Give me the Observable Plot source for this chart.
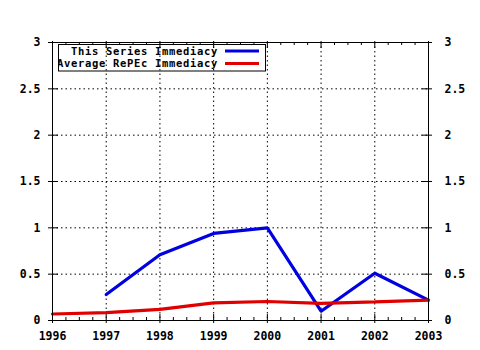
<!DOCTYPE html>
<html>
<head>
<meta charset="utf-8">
<script src="https://cdn.jsdelivr.net/npm/d3@7"></script>
<script src="https://cdn.jsdelivr.net/npm/@observablehq/plot@0.6"></script>
<style>
  html, body { margin: 0; padding: 0; background: #fff; }
  #wrap { position: relative; width: 480px; height: 350px; }
  #legend { position: absolute; left: 58px; top: 44px; }
</style>
</head>
<body>
<div id="wrap"></div>
<script>
// ---- data ----
const years = [1996, 1997, 1998, 1999, 2000, 2001, 2002, 2003];
const xTickLabels = ["1996", "1997", "1998", "1999", "2000", "2001", "2002", "2003"];
const seriesYears = [1997, 1998, 1999, 2000, 2001, 2002, 2003];
const seriesValues = [0.28, 0.71, 0.94, 1.0, 0.10, 0.51, 0.22];
const avgYears = [1996, 1997, 1998, 1999, 2000, 2001, 2002, 2003];
const avgValues = [0.07, 0.085, 0.12, 0.19, 0.205, 0.185, 0.20, 0.22];
const yTicks = [0, 0.5, 1, 1.5, 2, 2.5, 3];
const yTickLabels = ["0", "0.5", "1", "1.5", "2", "2.5", "3"];
const seriesNames = ["This Series Immediacy", "Average RePEc Immediacy"];
const seriesColors = ["#0000e0", "#e00000"];

// ---- layout ----
const W = 480, H = 350, mL = 52, mR = 52, mT = 42, mB = 30;
const xMin = 1996, xMax = 2003, yMin = 0, yMax = 3;
const pxX = (W - mL - mR) / (xMax - xMin);
const pxY = (H - mT - mB) / (yMax - yMin);
const FONT = "'DejaVu Sans Mono', 'Liberation Mono', monospace";

const series = seriesYears.map((y, i) => ({year: y, value: seriesValues[i]}));
const avg = avgYears.map((y, i) => ({year: y, value: avgValues[i]}));
const minorX = d3.range(xMin, xMax, 0.25).filter(v => !years.includes(v));

const dots = {stroke: "#000", strokeWidth: 1, strokeDasharray: "1.5,3"};

const chart = Plot.plot({
  width: W, height: H,
  marginLeft: mL, marginRight: mR, marginTop: mT, marginBottom: mB,
  x: {domain: [xMin, xMax], axis: null},
  y: {domain: [yMin, yMax], axis: null},
  style: {fontFamily: FONT, fontSize: "11.5px", fontWeight: "bold", background: "#fff"},
  marks: [
    Plot.ruleX(years.slice(1, -1), {...dots}),
    Plot.ruleY(yTicks.slice(1, -1), {...dots}),
    // bottom / top major ticks
    Plot.ruleX(years, {y1: yMin - 3 / pxY, y2: yMin + 6 / pxY, stroke: "#000"}),
    Plot.ruleX(years, {y1: yMax - 6 / pxY, y2: yMax + 1 / pxY, stroke: "#000"}),
    // minor ticks
    Plot.ruleX(minorX, {y1: yMin, y2: yMin + 3 / pxY, stroke: "#000"}),
    Plot.ruleX(minorX, {y1: yMax - 3 / pxY, y2: yMax, stroke: "#000"}),
    // left / right major ticks
    Plot.ruleY(yTicks, {x1: xMin - 4 / pxX, x2: xMin + 6 / pxX, stroke: "#000"}),
    Plot.ruleY(yTicks, {x1: xMax - 6 / pxX, x2: xMax + 4 / pxX, stroke: "#000"}),
    Plot.line(series, {x: "year", y: "value", stroke: seriesColors[0], strokeWidth: 3.2, strokeLinejoin: "miter"}),
    Plot.line(avg, {x: "year", y: "value", stroke: seriesColors[1], strokeWidth: 3.2, strokeLinejoin: "miter"}),
    Plot.frame({stroke: "#000", strokeWidth: 1}),
    Plot.text(yTicks, {x: () => xMin, y: d => d, text: (d, i) => yTickLabels[i], textAnchor: "end", dx: -12, fill: "#000"}),
    Plot.text(yTicks, {x: () => xMax, y: d => d, text: (d, i) => yTickLabels[i], textAnchor: "start", dx: 16, fill: "#000"}),
    Plot.text(years, {x: d => d, y: () => yMin, text: (d, i) => xTickLabels[i], dy: 16, fill: "#000"})
  ]
});

const wrap = document.getElementById("wrap");
wrap.appendChild(chart);

// ---- legend (inside plot area, gnuplot style) ----
const lg = d3.select(wrap).append("svg").attr("id", "legend")
  .attr("width", 209).attr("height", 28)
  .style("font-family", FONT).style("font-size", "10.5px").style("font-weight", "bold")
  .style("letter-spacing", "0.68px");
lg.append("rect").attr("x", 0.5).attr("y", 0.5).attr("width", 207).attr("height", 26.5)
  .attr("fill", "none").attr("stroke", "#000");
seriesNames.forEach((name, i) => {
  const cy = 7 + i * 12.5;
  lg.append("text").attr("x", 160).attr("y", cy).attr("dy", "0.35em")
    .attr("text-anchor", "end").attr("fill", "#000").text(name);
  lg.append("line").attr("x1", 167).attr("x2", 201).attr("y1", cy).attr("y2", cy)
    .attr("stroke", seriesColors[i]).attr("stroke-width", 3.2);
});
</script>
</body>
</html>
